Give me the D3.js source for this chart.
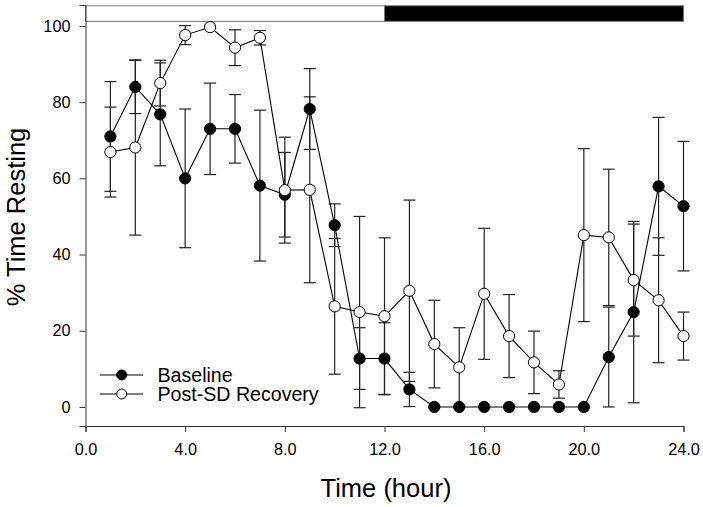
<!DOCTYPE html>
<html><head><meta charset="utf-8">
<script src="https://cdn.jsdelivr.net/npm/d3@7"></script>
<style>body{margin:0;background:#fff}svg{display:block}text{font-family:Arial,"Liberation Sans",sans-serif}</style>
</head><body><svg id="c" width="703" height="507"></svg>
<script>
const hours = [1,2,3,4,5,6,7,8,9,10,11,12,13,14,15,16,17,18,19,20,21,22,23,24];
const baseline = [71,84,76.8,60,73,73,58.1,55.7,78.2,47.7,12.7,12.7,4.6,0,0,0,0,0,0,0,13.1,24.9,57.9,52.7];
const baselineErr = [14.4,7,13.5,18.2,12,9,19.8,11.1,10.6,5.6,8.1,9.4,4.5,0,0,0,0,0,0,0,13.1,23.8,18.1,17];
const recovery = [66.9,68.1,85,97.6,99.7,94.3,96.9,56.9,57,26.4,24.9,23.8,30.5,16.5,10.4,29.7,18.6,11.7,5.9,45.1,44.5,33.3,28,18.6];
const recoveryErr = [11.8,23,6,2.5,0.3,4.7,1.9,13.9,24.4,17.8,25.1,20.6,23.8,11.5,10.4,17.2,10.9,8.2,3.6,22.7,17.9,14.7,16.4,6.3];
const xTicks = [0,4,8,12,16,20,24];
const yTicks = [0,20,40,60,80,100];
const lightPeriods = [{start:0,end:12,fill:"#fff"},{start:12,end:24,fill:"#000"}];
const seriesNames = ["Baseline","Post-SD Recovery"];

const svg = d3.select("#c");
const x = d3.scaleLinear().domain([0,24]).range([85.5,683.5]);
const y = d3.scaleLinear().domain([-5,105.5]).range([426,5]);

// light/dark bar
svg.selectAll("rect.bar").data(lightPeriods).enter().append("rect")
  .attr("x",d=>x(d.start)).attr("width",d=>x(d.end)-x(d.start))
  .attr("y",y(105.3)).attr("height",y(101.2)-y(105.3))
  .attr("fill",d=>d.fill).attr("stroke","#777").attr("stroke-width",1);

// axes
const xAxis = svg.append("g").attr("transform",`translate(0,${y(-5)})`)
  .call(d3.axisBottom(x).tickValues(xTicks).tickFormat(d3.format(".1f")).tickSizeOuter(0).tickSize(6).tickPadding(11));
const yAxis = svg.append("g").attr("transform",`translate(${x(0)},0)`)
  .call(d3.axisLeft(y).tickValues(yTicks).tickSizeOuter(0).tickSize(6).tickPadding(9));
[xAxis,yAxis].forEach(g=>{
  g.select(".domain").attr("stroke","#333");
  g.selectAll(".tick line").attr("stroke","#333");
  g.selectAll(".tick text").attr("font-size",16.3).attr("fill","#000").attr("font-family","Arial, 'Liberation Sans', sans-serif");
});

const series = [
  {name:seriesNames[0], vals:baseline, err:baselineErr, fill:"#000"},
  {name:seriesNames[1], vals:recovery, err:recoveryErr, fill:"#fff"}
];
const cap = 6;
series.forEach(s=>{
  const g = svg.append("g");
  const eb = g.selectAll("g.eb").data(hours.map((h,i)=>({h,v:s.vals[i],e:s.err[i]}))).enter().append("g");
  eb.filter(d=>d.e>0).append("line").attr("x1",d=>x(d.h)).attr("x2",d=>x(d.h))
    .attr("y1",d=>y(d.v+d.e)).attr("y2",d=>y(d.v-d.e)).attr("stroke","#222").attr("stroke-width",1.2);
  eb.filter(d=>d.e>0).append("line").attr("x1",d=>x(d.h)-cap).attr("x2",d=>x(d.h)+cap)
    .attr("y1",d=>y(d.v+d.e)).attr("y2",d=>y(d.v+d.e)).attr("stroke","#222").attr("stroke-width",1.2);
  eb.filter(d=>d.e>0).append("line").attr("x1",d=>x(d.h)-cap).attr("x2",d=>x(d.h)+cap)
    .attr("y1",d=>y(d.v-d.e)).attr("y2",d=>y(d.v-d.e)).attr("stroke","#222").attr("stroke-width",1.2);
});
series.forEach(s=>{
  svg.append("path").datum(hours.map((h,i)=>[h,s.vals[i]]))
    .attr("d",d3.line().x(d=>x(d[0])).y(d=>y(d[1])))
    .attr("fill","none").attr("stroke","#000").attr("stroke-width",1.1);
});
series.forEach(s=>{
  svg.append("g").selectAll("circle").data(hours.map((h,i)=>[h,s.vals[i]])).enter().append("circle")
    .attr("cx",d=>x(d[0])).attr("cy",d=>y(d[1])).attr("r",5.6)
    .attr("fill",s.fill).attr("stroke","#000").attr("stroke-width",1);
});

// legend
const leg = svg.append("g");
series.forEach((s,i)=>{
  const ly = 375 + i*19;
  leg.append("line").attr("x1",100).attr("x2",143).attr("y1",ly).attr("y2",ly).attr("stroke","#000").attr("stroke-width",1.1);
  leg.append("circle").attr("cx",121.7).attr("cy",ly).attr("r",5).attr("fill",s.fill).attr("stroke","#000");
  leg.append("text").attr("x",157.5).attr("y",ly).attr("dy","0.35em").attr("font-size",19.6).text(s.name);
});

// axis titles
svg.append("text").attr("x",386).attr("y",497).attr("text-anchor","middle").attr("font-size",25.5).text("Time (hour)");
svg.append("text").attr("transform","translate(25,217) rotate(-90)").attr("text-anchor","middle").attr("font-size",25.5).text("% Time Resting");
</script></body></html>
